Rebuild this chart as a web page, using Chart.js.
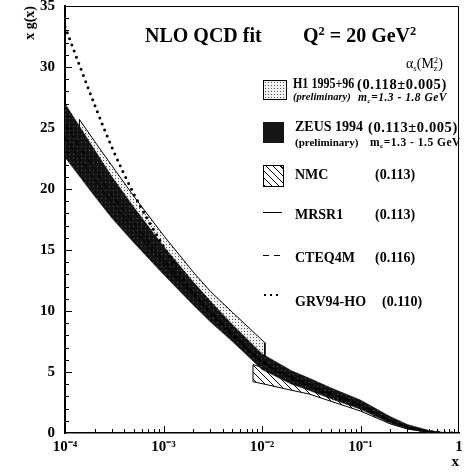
<!DOCTYPE html>
<html>
<head>
<meta charset="utf-8">
<script src="https://cdn.jsdelivr.net/npm/chart.js"></script>
<style>
body { margin: 0; background: #fff; }
#wrap { position: relative; width: 472px; height: 472px; font-family: "Liberation Serif", "Times New Roman", serif; color: #000; overflow: hidden; }
#wrap canvas { position: absolute; left: 0; top: 0; }
.t { position: absolute; white-space: nowrap; font-weight: bold; line-height: 1; }
.t sup, .t sub { font-size: 0.62em; position: relative; vertical-align: 0; }
.t sup { top: -0.6em; }
.t sub { top: 0.3em; }
.ss { display: inline-flex; flex-direction: column; font-size: 0.62em; line-height: 0.95; vertical-align: middle; position: relative; top: -0.15em; }
.sw { position: absolute; box-sizing: border-box; }
.cond { transform: scaleX(0.86); transform-origin: 0 0; }
.wide { font-size: 14.5px; letter-spacing: 0.6px; }
.small { font-size: 11.5px; letter-spacing: 0.5px; }
</style>
</head>
<body>
<div id="wrap">
  <canvas id="c" width="472" height="472"></canvas>

  <div class="t" style="left:145px;top:25px;font-size:20px">NLO QCD fit</div>
  <div class="t" style="left:303px;top:25px;font-size:20px">Q<sup>2</sup> = 20 GeV<sup>2</sup></div>
  <div class="t" style="left:406px;top:57px;font-size:14px;font-weight:normal">&alpha;<sub>s</sub>(M<span class="ss"><span>2</span><span>z</span></span>)</div>

  <div class="sw" style="left:263px;top:80px;width:24px;height:20px;border:1px solid #000;background-color:#f2f2f2;background-image:radial-gradient(#555 0.7px, transparent 0.9px);background-size:3px 3px"></div>
  <div class="t cond" style="left:293px;top:77px;font-size:14px">H1 1995+96</div>
  <div class="t" style="left:293px;top:92px;font-size:10.5px;font-style:italic">(preliminary)</div>
  <div class="t wide" style="left:357px;top:77px">(0.118&plusmn;0.005)</div>
  <div class="t small" style="left:358px;top:92px;font-style:italic">m<sub>c</sub>=1.3 - 1.8 GeV</div>

  <div class="sw" style="left:263px;top:122px;width:21px;height:21px;background:#151515"></div>
  <div class="t" style="left:295px;top:120px;font-size:14px">ZEUS 1994</div>
  <div class="t" style="left:295px;top:137px;font-size:11px">(preliminary)</div>
  <div class="t wide" style="left:368px;top:120px">(0.113&plusmn;0.005)</div>
  <div class="t small" style="left:370px;top:137px">m<sub>c</sub>=1.3 - 1.5 GeV</div>

  <div class="sw" style="left:263px;top:165px;width:21px;height:22px;border:1px solid #000;background:repeating-linear-gradient(45deg,#000 0 1.2px,#fff 1.2px 5px)"></div>
  <div class="t" style="left:295px;top:168px;font-size:14px">NMC</div>
  <div class="t" style="left:375px;top:168px;font-size:14px">(0.113)</div>

  <div class="sw" style="left:263px;top:212px;width:19px;height:0;border-top:1px solid #000"></div>
  <div class="t" style="left:295px;top:208px;font-size:14px">MRSR1</div>
  <div class="t" style="left:375px;top:208px;font-size:14px">(0.113)</div>

  <div class="sw" style="left:263px;top:255px;width:6px;height:0;border-top:1.5px solid #000"></div>
  <div class="sw" style="left:274px;top:255px;width:6px;height:0;border-top:1.5px solid #000"></div>
  <div class="t" style="left:295px;top:251px;font-size:14px">CTEQ4M</div>
  <div class="t" style="left:375px;top:251px;font-size:14px">(0.116)</div>

  <div class="sw" style="left:264px;top:294px;width:2px;height:2px;background:#000"></div>
  <div class="sw" style="left:270px;top:294px;width:2px;height:2px;background:#000"></div>
  <div class="sw" style="left:276px;top:294px;width:2px;height:2px;background:#000"></div>
  <div class="t" style="left:295px;top:295px;font-size:14px">GRV94-HO</div>
  <div class="t" style="left:382px;top:295px;font-size:14px">(0.110)</div>
</div>

<script>
// x g(x) at Q^2 = 20 GeV^2
var xGrid = [1e-4, 2e-4, 3e-4, 5e-4, 1e-3, 2e-3, 3e-3, 5e-3, 1e-2, 2e-2, 3e-2, 5e-2, 0.1, 0.2, 0.3, 0.5, 0.7, 1];
var grv94 = [33.3, 26.9, 23.4, 19.6, 15.3, 11.5, 9.8, 8.0, 5.9, 4.5, 3.9, 3.1, 2.2, 1.0, 0.5, 0.12, 0.03, 0];
var mrsr1 = [24.2, 20.8, 18.9, 16.7, 13.9, 11.3, 9.9, 8.1, 5.8, 4.5, 3.9, 3.2, 2.3, 1.05, 0.5, 0.12, 0.03, 0];
var cteq4m = [25.3, 21.6, 19.5, 17.2, 14.2, 11.5, 10.0, 8.2, 5.9, 4.6, 4.0, 3.25, 2.3, 1.0, 0.48, 0.11, 0.02, 0];
var zeusLow = [22.6, 19.4, 17.6, 15.6, 13.0, 10.5, 9.1, 7.5, 5.2, 4.0, 3.5, 2.8, 1.95, 0.8, 0.35, 0.06, 0.01, 0];
var zeusHigh = [27.0, 23.2, 21.0, 18.5, 15.3, 12.4, 10.8, 8.9, 6.5, 5.1, 4.5, 3.7, 2.7, 1.35, 0.7, 0.2, 0.05, 0];

var h1X = [1.4e-4, 2e-4, 3e-4, 5e-4, 1e-3, 2e-3, 3e-3, 5e-3, 1.07e-2];
var h1Low = [24.4, 22.3, 20.2, 17.6, 14.4, 11.5, 10.1, 8.4, 5.8];
var h1High = [25.7, 23.9, 21.9, 19.4, 16.2, 13.2, 11.6, 9.9, 7.4];

var nmcX = [8.1e-3, 1e-2, 2e-2, 3e-2, 5e-2, 0.1, 0.2, 0.3, 0.5];
var nmcLow = [4.2, 4.05, 3.5, 3.2, 2.6, 1.8, 0.75, 0.32, 0.05];
var nmcHigh = [5.6, 5.4, 4.6, 4.1, 3.3, 2.4, 1.1, 0.55, 0.12];

var xTickValues = [1e-4, 1e-3, 1e-2, 1e-1, 1];
var xTickLabels = ['10\u207B\u2074', '10\u207B\u00B3', '10\u207B\u00B2', '10\u207B\u00B9', '1'];

function pts(xs, ys) {
    return xs.map(function (x, i) { return {x: x, y: ys[i]}; });
}

// closed outline: upper edge left->right, lower edge right->left
function band(xs, lo, hi) {
    var p = pts(xs, hi);
    for (var i = xs.length - 1; i >= 0; i--) p.push({x: xs[i], y: lo[i]});
    p.push({x: xs[0], y: hi[0]});
    return p;
}

var ctx = document.getElementById('c').getContext('2d');

function tile(size, bg, draw) {
    var c = document.createElement('canvas');
    c.width = size; c.height = size;
    var g = c.getContext('2d');
    g.fillStyle = bg;
    g.fillRect(0, 0, size, size);
    draw(g);
    return ctx.createPattern(c, 'repeat');
}

var h1Fill = tile(3, '#f2f2f2', function (g) {
    g.fillStyle = '#555'; g.fillRect(1, 1, 1, 1);
});
var zeusFill = tile(4, '#121212', function (g) {
    g.fillStyle = '#555'; g.fillRect(1, 2, 1, 1);
});
var nmcFill = tile(7, '#fff', function (g) {
    g.strokeStyle = '#000'; g.lineWidth = 1;
    g.beginPath(); g.moveTo(-1, -1); g.lineTo(8, 8); g.stroke();
});

var axisFont = {family: 'Liberation Serif', weight: 'bold', size: 15};

var frameTicks = {
    id: 'frameTicks',
    afterDatasetsDraw: function (chart) {
        var c = chart.ctx, a = chart.chartArea;
        var xs = chart.scales.x, ys = chart.scales.y;
        c.save();
        c.strokeStyle = '#000';
        c.lineWidth = 1;
        c.beginPath();
        c.moveTo(a.left, a.top + 0.5);
        c.lineTo(a.right - 0.5, a.top + 0.5);
        c.lineTo(a.right - 0.5, a.bottom);
        for (var v = 1; v < 35; v++) {
            var y = Math.round(ys.getPixelForValue(v)) + 0.5;
            c.moveTo(a.left, y);
            c.lineTo(a.left + (v % 5 === 0 ? 7 : 4), y);
        }
        for (var d = -4; d < 0; d++) {
            for (var m = 1; m < 10; m++) {
                if (d === -4 && m === 1) continue;
                var x = Math.round(xs.getPixelForValue(m * Math.pow(10, d))) + 0.5;
                c.moveTo(x, a.bottom);
                c.lineTo(x, a.bottom - (m === 1 ? 7 : 4));
            }
        }
        c.stroke();
        c.restore();
    }
};

var chart = new Chart(ctx, {
    type: 'line',
    data: {
        datasets: [
            {label: 'GRV94-HO', data: pts(xGrid, grv94), borderColor: '#000', borderWidth: 3,
             borderDash: [0, 6.5], borderCapStyle: 'round', pointRadius: 0, cubicInterpolationMode: 'monotone', fill: false},
            {label: 'CTEQ4M', data: pts(xGrid, cteq4m), borderColor: '#000', borderWidth: 1.2,
             borderDash: [6, 4], pointRadius: 0, cubicInterpolationMode: 'monotone', fill: false},
            {label: 'MRSR1', data: pts(xGrid, mrsr1), borderColor: '#000', borderWidth: 1,
             pointRadius: 0, cubicInterpolationMode: 'monotone', fill: false},
            {label: 'ZEUS 1994', data: band(xGrid, zeusLow, zeusHigh), borderColor: '#121212', borderWidth: 0.5,
             backgroundColor: zeusFill, pointRadius: 0, tension: 0, fill: 'shape'},
            {label: 'NMC', data: band(nmcX, nmcLow, nmcHigh), borderColor: '#000', borderWidth: 1,
             backgroundColor: nmcFill, pointRadius: 0, tension: 0, fill: 'shape'},
            {label: 'H1 1995+96', data: band(h1X, h1Low, h1High), borderColor: '#000', borderWidth: 1,
             backgroundColor: h1Fill, pointRadius: 0, tension: 0, fill: 'shape'}
        ]
    },
    options: {
        responsive: false,
        animation: false,
        events: [],
        layout: {padding: {left: 0, right: 13, top: 6, bottom: 0}},
        plugins: {legend: {display: false}, tooltip: {enabled: false}},
        scales: {
            x: {
                type: 'logarithmic',
                min: 1e-4,
                max: 1,
                grid: {display: false, drawTicks: false},
                border: {display: true, color: '#000', width: 1.5},
                afterBuildTicks: function (s) {
                    s.ticks = xTickValues.map(function (v) { return {value: v}; });
                },
                ticks: {
                    autoSkip: false, maxRotation: 0, padding: 5, color: '#000', font: axisFont,
                    callback: function (v, i) { return xTickLabels[i]; }
                },
                title: {display: true, text: 'x', align: 'end', color: '#000',
                        font: {family: 'Liberation Serif', weight: 'bold', size: 15}, padding: {top: 0, bottom: 1}},
                afterFit: function (s) { s.height = 39; s.paddingLeft = 0; s.paddingRight = 0; }
            },
            y: {
                min: 0,
                max: 35,
                grid: {display: false, drawTicks: false},
                border: {display: true, color: '#000', width: 2},
                ticks: {stepSize: 5, padding: 10, color: '#000', font: axisFont},
                title: {display: true, text: 'x g(x)', align: 'end', color: '#000',
                        font: {family: 'Liberation Serif', weight: 'bold', size: 14}, padding: {top: 22, bottom: 0}},
                afterFit: function (s) { s.width = 65; s.paddingTop = 0; s.paddingBottom = 0; }
            }
        }
    },
    plugins: [frameTicks]
});
</script>
</body>
</html>
